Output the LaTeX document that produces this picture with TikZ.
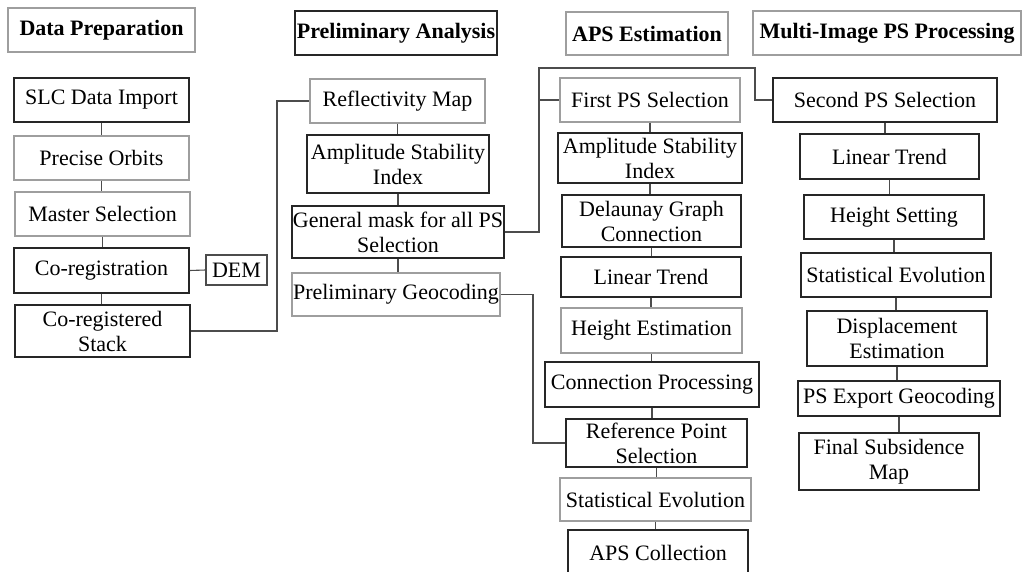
\documentclass[tikz,border=0pt]{standalone}
\usepackage{fontspec}
\setmainfont{Liberation Serif}
\begin{document}
\begin{tikzpicture}[x=1pt,y=-1pt]
\tikzset{
 box/.style={rectangle, inner sep=0pt, align=center, font=\fontsize{22}{25}\selectfont, line width=1.2pt},
 darkbox/.style={box, draw=black!85},
 lightbox/.style={box, draw=black!38},
 ttl/.style={font=\bfseries\fontsize{22}{25}\selectfont},
 wire/.style={draw=black!70, line width=1.1pt},
}
\fill[white] (0,0) rectangle (1024,571);
\useasboundingbox (0,0) rectangle (1024,571);

% titles
\node[lightbox, ttl, minimum width=187pt, minimum height=44pt] (tdp) at (101.5,30) {Data Preparation};
\node[darkbox, ttl, minimum width=202pt, minimum height=44pt] (tpa) at (396,33) {Preliminary Analysis};
\node[lightbox, ttl, minimum width=162pt, minimum height=43pt] (taps) at (647,33.5) {APS Estimation};
\node[lightbox, ttl, minimum width=268pt, minimum height=44pt] (tmi) at (887,33) {Multi-Image PS Processing};

% Data preparation
\node[darkbox, minimum width=175pt, minimum height=44pt] (slc) at (101.5,100) {SLC Data Import};
\node[lightbox, minimum width=175pt, minimum height=44pt] (orb) at (101.5,158) {Precise Orbits};
\node[lightbox, minimum width=175pt, minimum height=44pt] (mas) at (102.5,214) {Master Selection};
\node[darkbox, minimum width=175pt, minimum height=45pt] (cor) at (101.5,270.5) {Co-registration};
\node[darkbox, draw=black!70, minimum width=61pt, minimum height=30pt] (dem) at (236.5,270) {DEM};
\node[darkbox, minimum width=175pt, minimum height=52pt] (stk) at (102.5,331) {Co-registered\\Stack};

% Preliminary analysis
\node[lightbox, minimum width=175pt, minimum height=44pt] (ref) at (397.5,101) {Reflectivity Map};
\node[darkbox, minimum width=182pt, minimum height=58pt] (asi) at (398,164) {Amplitude Stability\\Index};
\node[darkbox, minimum width=212pt, minimum height=52pt] (gm) at (398,232) {General mask for all PS\\Selection};
\node[lightbox, minimum width=208pt, minimum height=43pt] (pg) at (396,294.5) {Preliminary Geocoding};

% APS estimation
\node[lightbox, minimum width=180pt, minimum height=44pt] (fps) at (650,100) {First PS Selection};
\node[darkbox, minimum width=184pt, minimum height=50pt] (asb) at (650,158) {Amplitude Stability\\Index};
\node[darkbox, minimum width=179pt, minimum height=52pt] (del) at (651.5,221) {Delaunay Graph\\Connection};
\node[darkbox, minimum width=180pt, minimum height=40pt] (lta) at (651,277) {Linear Trend};
\node[lightbox, minimum width=181pt, minimum height=45pt] (hea) at (651.5,330.5) {Height Estimation};
\node[darkbox, minimum width=214pt, minimum height=45pt] (cpr) at (652,384.5) {Connection Processing};
\node[darkbox, minimum width=181pt, minimum height=48pt] (rps) at (656.5,443) {Reference Point\\Selection};
\node[lightbox, minimum width=191pt, minimum height=43pt] (sea) at (655.5,499.5) {Statistical Evolution};
\node[darkbox, minimum width=180pt, minimum height=46pt] (apc) at (658,553) {APS Collection};

% Multi-image PS processing
\node[darkbox, minimum width=224pt, minimum height=44pt] (sps) at (885,100) {Second PS Selection};
\node[darkbox, minimum width=179pt, minimum height=45pt] (ltb) at (889.5,156.5) {Linear Trend};
\node[darkbox, minimum width=180pt, minimum height=44pt] (hsb) at (894,217) {Height Setting};
\node[darkbox, minimum width=190pt, minimum height=44pt] (seb) at (896,275) {Statistical Evolution};
\node[darkbox, minimum width=180pt, minimum height=55pt] (dis) at (897,338.5) {Displacement\\Estimation};
\node[darkbox, minimum width=202pt, minimum height=35pt] (pse) at (899,398.5) {PS Export Geocoding};
\node[darkbox, minimum width=180pt, minimum height=57pt] (fsm) at (889,461.5) {Final Subsidence\\Map};

% chain connectors
\foreach \a/\b in {slc/orb, orb/mas, mas/cor, cor/stk,
                   ref/asi, asi/gm, gm/pg,
                   fps/asb, asb/del, del/lta, lta/hea, hea/cpr, cpr/rps, rps/sea, sea/apc,
                   sps/ltb, ltb/hsb, hsb/seb, seb/dis, dis/pse, pse/fsm}
  \draw[wire] (\a.south) -- (\a.south |- \b.north);
\draw[wire] (cor.east) -- (dem.west);

% cross connectors
\coordinate (b1) at (277,0);
\coordinate (b2) at (539,68);
\coordinate (b3) at (755,68);
\coordinate (b4) at (533,0);
\draw[wire] (stk.east) -| (b1 |- ref.west) -- (ref.west);
\draw[wire] (gm.east) -| (b2) -- (b3) |- (sps.west);
\draw[wire] (b2 |- fps.west) -- (fps.west);
\draw[wire] (pg.east) -| (b4 |- rps.west) -- (rps.west);
\end{tikzpicture}
\end{document}
